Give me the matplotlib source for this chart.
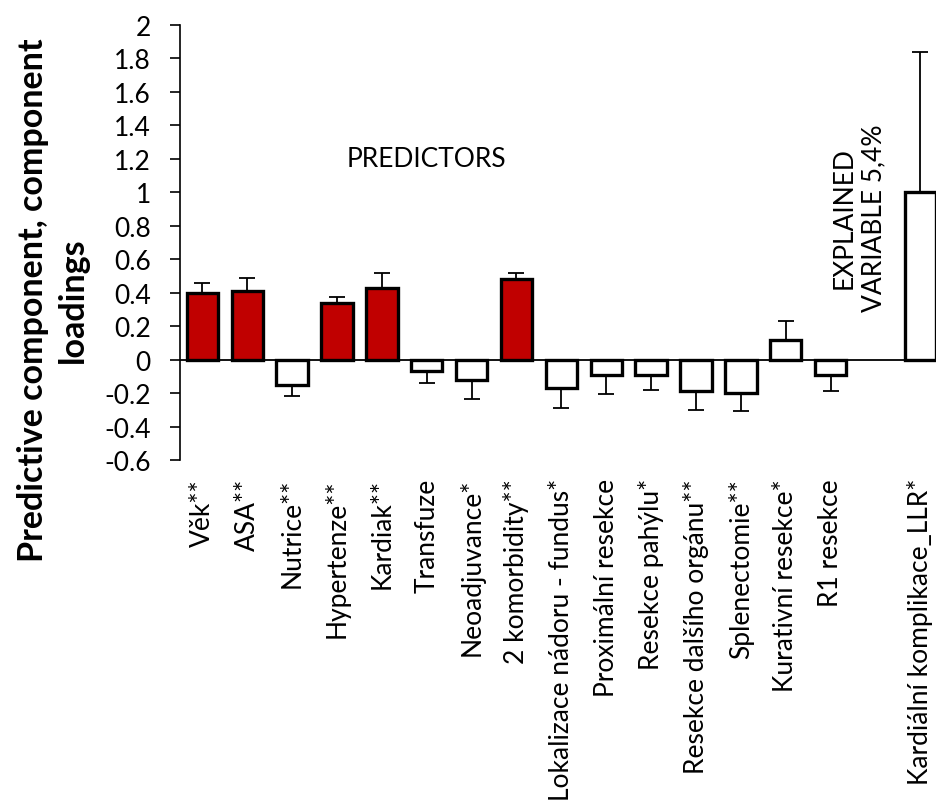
import matplotlib.pyplot as plt
import matplotlib
import numpy as np

matplotlib.rcParams['font.family'] = ['Lato', 'DejaVu Sans']
matplotlib.rcParams['font.size'] = 19

# data
labels = ['Věk**', 'ASA**', 'Nutrice**', 'Hypertenze**', 'Kardiak**', 'Transfuze',
          'Neoadjuvance*', '2 komorbidity**', 'Lokalizace nádoru - fundus*',
          'Proximální resekce', 'Resekce pahýlu*', 'Resekce dalšího orgánu**',
          'Splenectomie**', 'Kurativní resekce*', 'R1 resekce',
          '', 'Kardiální komplikace_LLR*']
values = [0.40, 0.41, -0.15, 0.34, 0.43, -0.07, -0.12, 0.48, -0.17,
          -0.09, -0.09, -0.19, -0.20, 0.12, -0.09, np.nan, 1.00]
errors = [0.06, 0.08, 0.07, 0.035, 0.09, 0.07, 0.115, 0.04, 0.12,
          0.115, 0.09, 0.11, 0.11, 0.11, 0.10, np.nan, 0.84]
highlight = [1, 1, 0, 1, 1, 0, 0, 1, 0, 0, 0, 0, 0, 0, 0, 0, 0]

x = np.arange(len(labels))
vals = np.array(values)
errs = np.array(errors)
lower = np.where(vals < 0, errs, 0)
upper = np.where(vals >= 0, errs, 0)
colors = ['#C00000' if h else 'white' for h in highlight]

fig = plt.figure(figsize=(9.36, 8.12), dpi=100)
ax = fig.add_axes([0.1923, 0.4323, 0.8077, 0.5357])

ax.bar(x, vals, width=0.7, color=colors, edgecolor='black', linewidth=2.4, zorder=3)
ax.errorbar(x, vals, yerr=[lower, upper], fmt='none', ecolor='black',
            elinewidth=1.3, capsize=6, capthick=1.3, zorder=2)
ax.axhline(0, color='black', linewidth=1.3, zorder=4)

ax.set_xlim(-0.5, 16.35)
ax.set_ylim(-0.6, 2)
ticks = np.round(np.arange(-0.6, 2.01, 0.2), 1)
ax.set_yticks(ticks)
ax.set_yticklabels([f'{v:g}' for v in ticks])
ax.tick_params(axis='y', length=7, width=1.2, pad=14)

ax.set_xticks(x)
ax.set_xticklabels(labels, rotation=90, va='top', ha='center')
ax.tick_params(axis='x', length=0, pad=13)

for s in ['top', 'right', 'bottom']:
    ax.spines[s].set_visible(False)
ax.spines['left'].set_linewidth(1.2)

ax.set_ylabel('Predictive component, component\nloadings', fontsize=24.5,
              fontweight='bold', linespacing=1.3)
ax.yaxis.set_label_coords(-0.121, 0.37)

ax.text(5.0, 1.2, 'PREDICTORS', ha='center', va='center')
ax.text(14.63, 0.85, 'EXPLAINED\nVARIABLE 5,4%', ha='center', va='center',
        rotation=90, linespacing=1.2)

plt.savefig('out.png', dpi=100)
